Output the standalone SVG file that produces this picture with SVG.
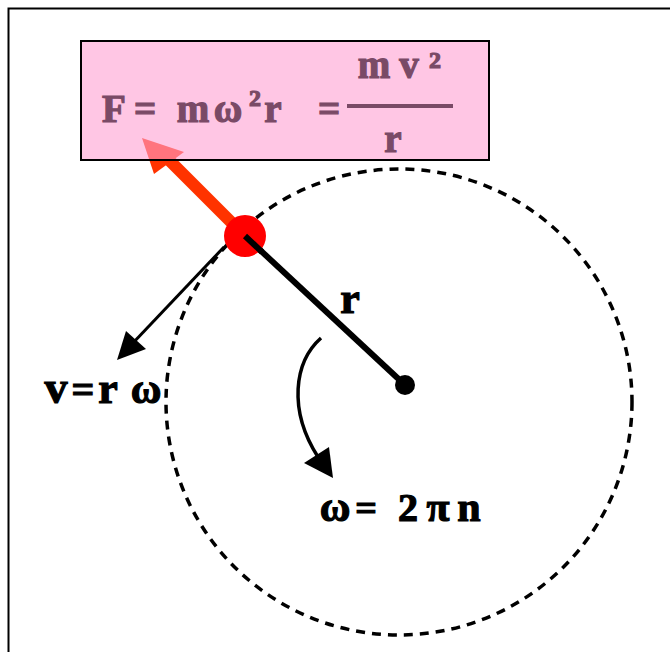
<svg xmlns="http://www.w3.org/2000/svg" width="670" height="652" viewBox="0 0 670 652">
<style>
.f{font-family:"Liberation Serif","DejaVu Serif",serif;font-weight:bold;fill:#7a4a66;stroke:#7a4a66;stroke-width:1.2;text-anchor:middle}
.k{font-family:"Liberation Serif","DejaVu Serif",serif;font-weight:bold;fill:#000;stroke:#000;stroke-width:1.2;text-anchor:middle}
</style>
<rect width="670" height="652" fill="#fff"/>
<path d="M8.5,652 V8.5 H670" fill="none" stroke="#000" stroke-width="2"/>
<g id="orbit">
<circle cx="399" cy="402" r="233" fill="none" stroke="#000" stroke-width="3.5" stroke-dasharray="9 7"/>
</g>
<g id="connectors">
<g id="force-arrow">
<line x1="245" y1="236" x2="166" y2="157" stroke="#ff3300" stroke-width="12"/>
<polygon points="142,138 184,152 154,174" fill="#ff3300"/>
</g>
<g id="velocity-arrow">
<line x1="224" y1="247" x2="132" y2="344" stroke="#000" stroke-width="3"/>
<polygon points="117,360 126,331 146,349" fill="#000"/>
</g>
<g id="radius-line">
<line x1="245" y1="236" x2="405" y2="385" stroke="#000" stroke-width="6"/>
</g>
<g id="rotation-arrow">
<path d="M321,338 C294,362 288,410 318,457" fill="none" stroke="#000" stroke-width="3.5"/>
<polygon points="333,478 304,463 329,447" fill="#000"/>
</g>
</g>
<g id="formula">
<rect x="81" y="41" width="408" height="119" fill="#ffa0d2" fill-opacity="0.6" stroke="#000" stroke-width="2"/>
<text class="f" x="114" y="122" font-size="39">F</text>
<text class="f" x="145" y="122" font-size="39">=</text>
<text class="f" x="193" y="122" font-size="39">m</text>
<text class="f" x="228" y="122" font-size="39">ω</text>
<text class="f" x="255" y="106" font-size="24">2</text>
<text class="f" x="273" y="122" font-size="39">r</text>
<text class="f" x="329" y="122" font-size="39">=</text>
<rect x="347" y="104" width="106" height="4" fill="#7a4a66"/>
<text class="f" x="374" y="78" font-size="39">m</text>
<text class="f" x="409" y="78" font-size="39">v</text>
<text class="f" x="435" y="68" font-size="24">2</text>
<text class="f" x="393" y="152" font-size="39">r</text>
</g>
<g id="mass">
<circle cx="245" cy="236" r="21" fill="#ff0000"/>
<line x1="245" y1="236" x2="262" y2="252" stroke="#000" stroke-width="6"/>
</g>
<g id="center">
<circle cx="405" cy="385" r="10" fill="#000"/>
</g>
<g id="labels">
<text class="k" x="350" y="313" font-size="44">r</text>
<text class="k" x="56" y="403" font-size="46">v</text>
<text class="k" x="83" y="403" font-size="40">=</text>
<text class="k" x="108" y="403" font-size="44">r</text>
<text class="k" x="146" y="403" font-size="42">ω</text>
<text class="k" x="335" y="521" font-size="42">ω</text>
<text class="k" x="366" y="521" font-size="38">=</text>
<text class="k" x="408" y="521" font-size="40">2</text>
<text class="k" x="438" y="521" font-size="42">π</text>
<text class="k" x="469" y="521" font-size="42">n</text>
</g>
</svg>
